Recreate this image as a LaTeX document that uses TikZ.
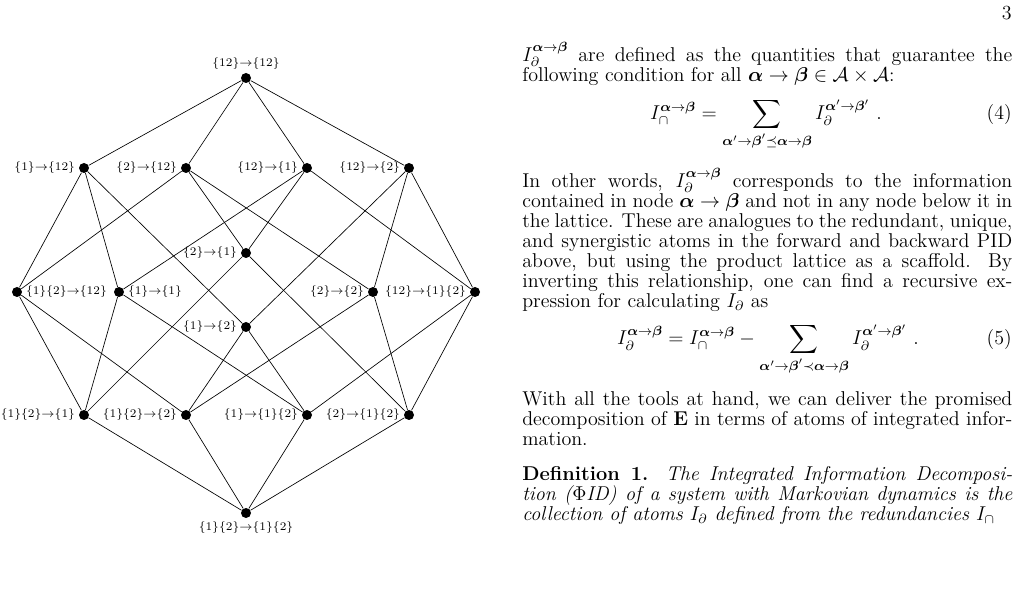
\documentclass[tikz,border=0pt]{standalone}
\usepackage{amsmath}
\usepackage{amssymb}
\tikzset{
  pt/.style={circle,fill=black,inner sep=0pt,minimum size=6pt},
  lab/.style={font=\scriptsize,inner sep=2pt},
  para/.style={anchor=north west,inner sep=0pt,text width=294pt,align=justify,
    font=\fontsize{12}{12}\selectfont},
  eqn/.style={anchor=base,inner sep=0pt,font=\fontsize{12}{12}\selectfont},
  tagn/.style={anchor=base east,inner sep=0pt,font=\fontsize{12}{12}\selectfont}
}
\newcommand{\rel}[2]{$\{#1\}{\to}\{#2\}$}
\newcommand{\ab}{\boldsymbol{\alpha}\to\boldsymbol{\beta}}
\newcommand{\abp}{\boldsymbol{\alpha}'\to\boldsymbol{\beta}'}
\begin{document}
\begin{tikzpicture}[x=0.6pt,y=-0.6pt]
    \useasboundingbox (0,0) rectangle (1021,598);

    % 格点
    \node[pt,label={[lab]above:\rel{12}{12}}] (TT) at (246,78) {};

    \node[pt,label={[lab]left:\rel{1}{12}}] (aT) at (84,168) {};
    \node[pt,label={[lab]left:\rel{2}{12}}] (bT) at (186,168) {};
    \node[pt,label={[lab]left:\rel{12}{1}}] (Ta) at (307,168) {};
    \node[pt,label={[lab]left:\rel{12}{2}}] (Tb) at (409,168) {};

    \node[pt,label={[lab]left:\rel{2}{1}}] (ba) at (246,253) {};

    \node[pt,label={[lab]right:\rel{1\}\{2}{12}}] (0T) at (17,292) {};
    \node[pt,label={[lab]right:\rel{1}{1}}] (aa) at (119,292) {};
    \node[pt,label={[lab]left:\rel{2}{2}}] (bb) at (373,292) {};
    \node[pt,label={[lab]left:\rel{12}{1\}\{2}}] (T0) at (475,292) {};

    \node[pt,label={[lab]left:\rel{1}{2}}] (ab) at (246,327) {};

    \node[pt,label={[lab]left:\rel{1\}\{2}{1}}] (0a) at (84,415) {};
    \node[pt,label={[lab]left:\rel{1\}\{2}{2}}] (0b) at (186,415) {};
    \node[pt,label={[lab]left:\rel{1}{1\}\{2}}] (a0) at (307,415) {};
    \node[pt,label={[lab]left:\rel{2}{1\}\{2}}] (b0) at (409,415) {};

    \node[pt,label={[lab]below:\rel{1\}\{2}{1\}\{2}}] (00) at (246,513) {};

    % 覆盖关系
    \foreach \u/\v in {TT/aT,TT/bT,TT/Ta,TT/Tb,
        aT/0T,aT/aa,aT/ab,bT/0T,bT/ba,bT/bb,
        Ta/aa,Ta/ba,Ta/T0,Tb/ab,Tb/bb,Tb/T0,
        0T/0a,0T/0b,aa/0a,aa/a0,ba/0a,ba/b0,
        ab/0b,ab/a0,bb/0b,bb/b0,T0/a0,T0/b0,
        0a/00,0b/00,a0/00,b0/00}
      \draw (\u) -- (\v);

    % 正文
    \node[font=\fontsize{12}{12}\selectfont,anchor=base east,inner sep=0pt] (pg) at (1012,20) {3};
    \node[para] (p1) at (522,42) {%
      $I_\partial^{\ab}$ are defined as the quantities that guarantee the\linebreak
      following condition for all $\ab\in\mathcal{A}\times\mathcal{A}$:};
    \node[eqn] (e4) at (766,120) {$\displaystyle I_\cap^{\ab} = \sum_{\abp\preceq\ab} I_\partial^{\abp}\ .$};
    \node[tagn] (t4) at (1012,120) {(4)};
    \node[para] (p2) at (522,168) {%
      In other words, $I_\partial^{\ab}$ corresponds to the information\linebreak
      contained in node $\ab$ and not in any node below it in\linebreak
      the lattice. These are analogues to the redundant, unique,\linebreak
      and synergistic atoms in the forward and backward PID\linebreak
      above, but using the product lattice as a scaffold. By\linebreak
      inverting this relationship, one can find a recursive ex-\linebreak
      pression for calculating $I_\partial$ as};
    \node[eqn] (e5) at (768,345) {$\displaystyle I_\partial^{\ab} = I_\cap^{\ab} - \sum_{\abp\prec\ab} I_\partial^{\abp}\ .$};
    \node[tagn] (t5) at (1012,345) {(5)};
    \node[para] (p3) at (522,391) {%
      With all the tools at hand, we can deliver the promised\linebreak
      decomposition of $\mathbf{E}$ in terms of atoms of integrated infor-\linebreak
      mation.};
    \node[para] (d1) at (522,466) {%
      \textbf{Definition 1.} \textit{The Integrated Information Decomposi-\linebreak
      tion ($\Phi$ID) of a system with Markovian dynamics is the\linebreak
      collection of atoms $I_\partial$ defined from the redundancies $I_\cap$}};
\end{tikzpicture}
\end{document}
